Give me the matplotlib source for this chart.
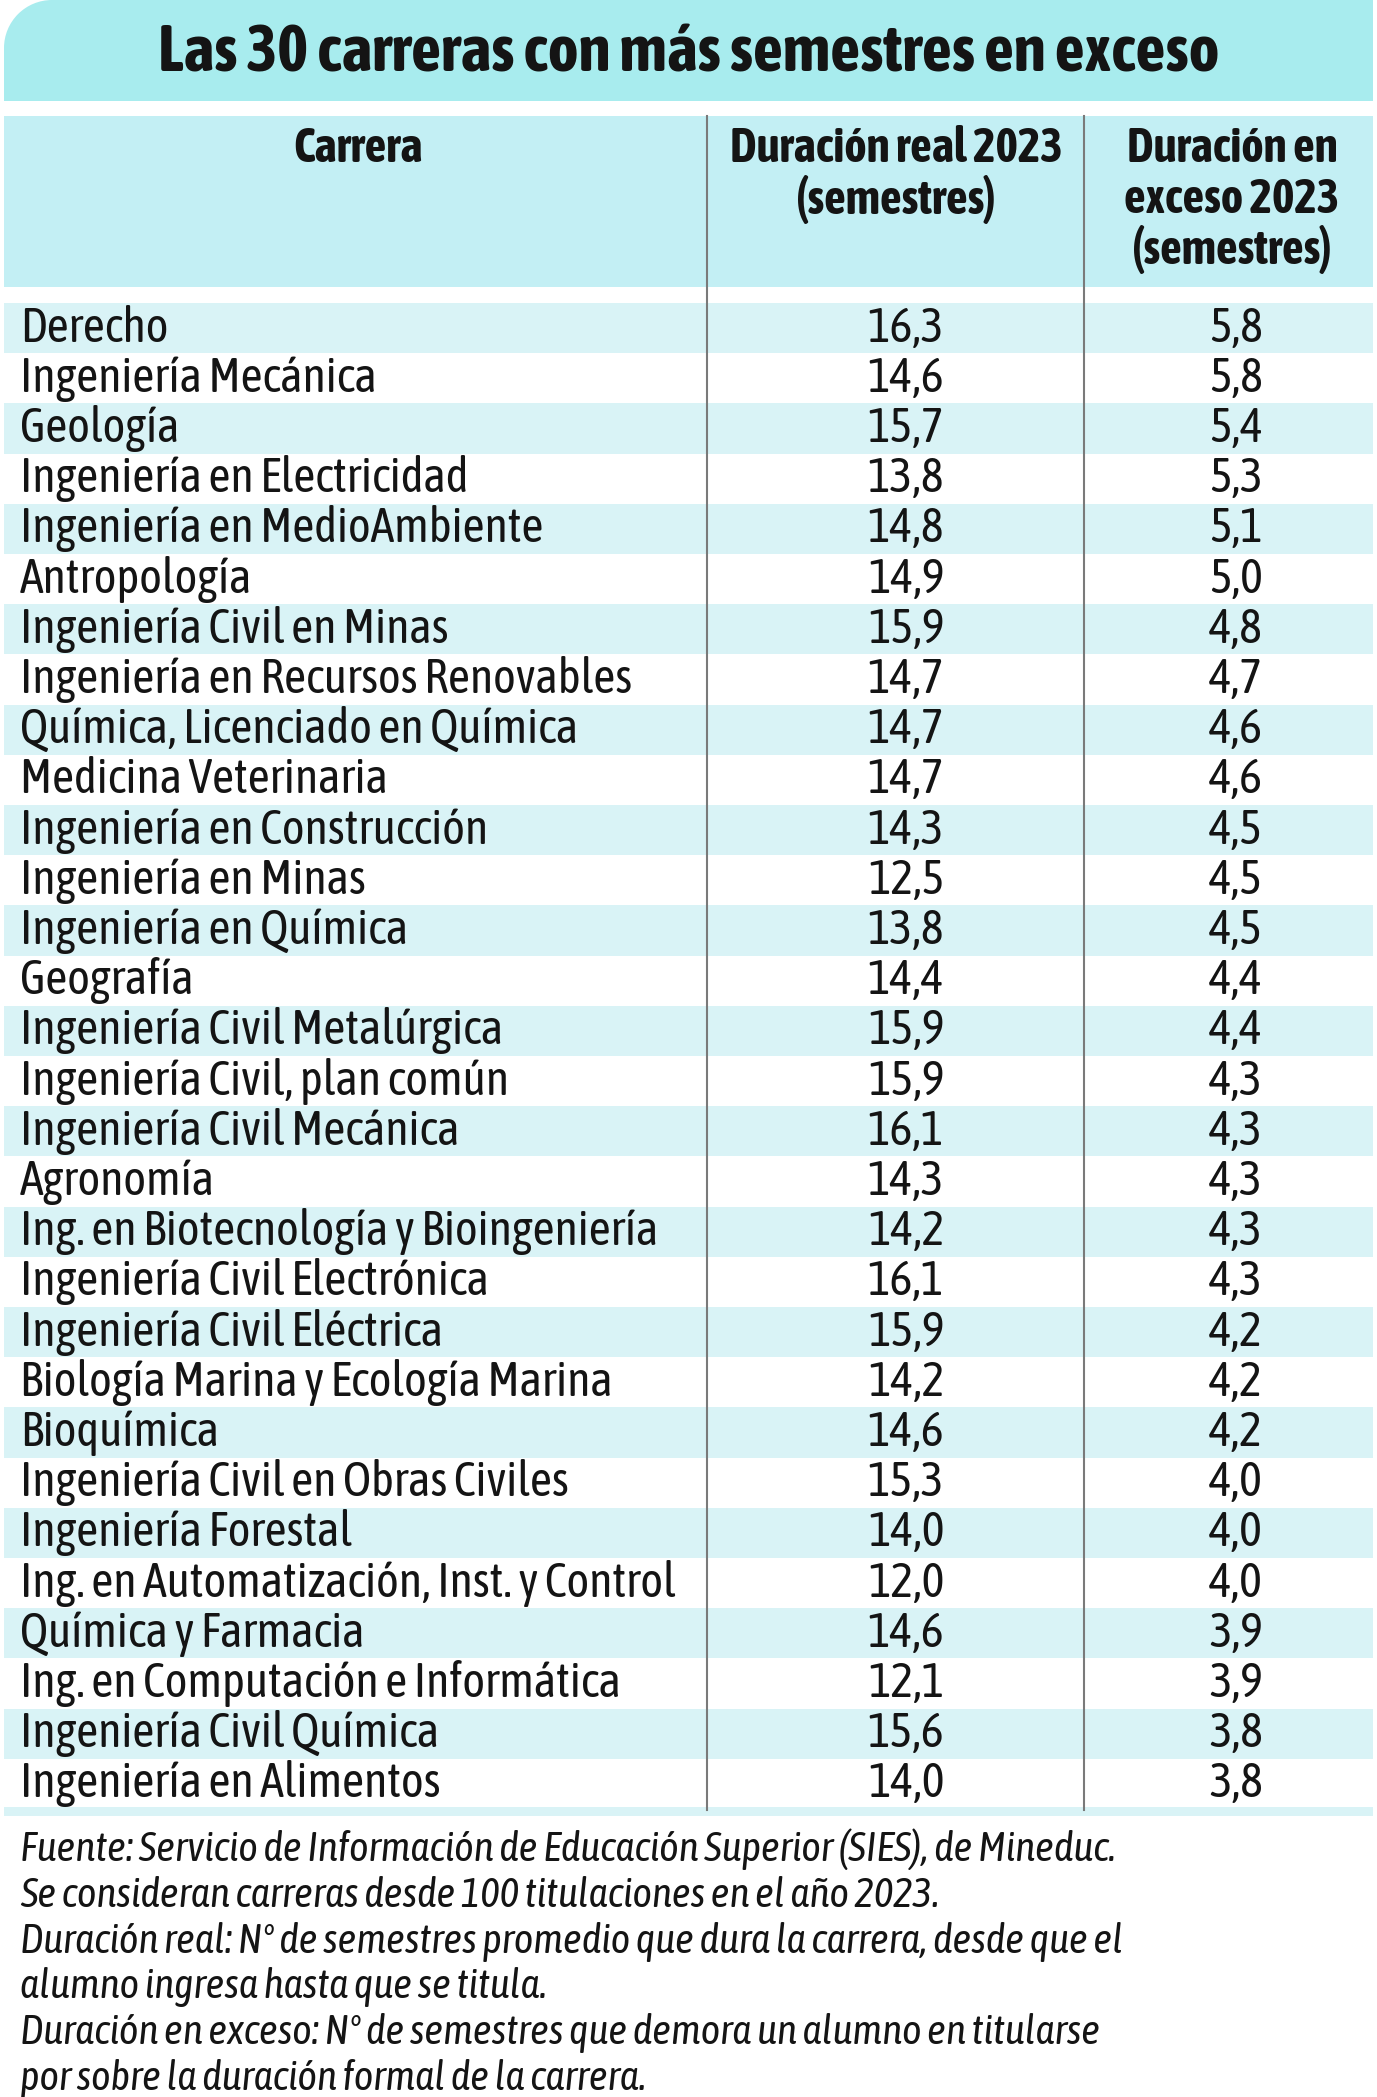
import matplotlib
matplotlib.use('Agg')
import matplotlib.pyplot as plt
from matplotlib import font_manager
from matplotlib.patches import Rectangle, Circle

carreras = ['Derecho', 'Ingeniería Mecánica', 'Geología', 'Ingeniería en Electricidad',
            'Ingeniería en MedioAmbiente', 'Antropología', 'Ingeniería Civil en Minas',
            'Ingeniería en Recursos Renovables', 'Química, Licenciado en Química',
            'Medicina Veterinaria', 'Ingeniería en Construcción', 'Ingeniería en Minas',
            'Ingeniería en Química', 'Geografía', 'Ingeniería Civil Metalúrgica',
            'Ingeniería Civil, plan común', 'Ingeniería Civil Mecánica', 'Agronomía',
            'Ing. en Biotecnología y Bioingeniería', 'Ingeniería Civil Electrónica',
            'Ingeniería Civil Eléctrica', 'Biología Marina y Ecología Marina', 'Bioquímica',
            'Ingeniería Civil en Obras Civiles', 'Ingeniería Forestal',
            'Ing. en Automatización, Inst. y Control', 'Química y Farmacia',
            'Ing. en Computación e Informática', 'Ingeniería Civil Química',
            'Ingeniería en Alimentos']
duracion_real = [16.3, 14.6, 15.7, 13.8, 14.8, 14.9, 15.9, 14.7, 14.7, 14.7,
                 14.3, 12.5, 13.8, 14.4, 15.9, 15.9, 16.1, 14.3, 14.2, 16.1,
                 15.9, 14.2, 14.6, 15.3, 14.0, 12.0, 14.6, 12.1, 15.6, 14.0]
duracion_exceso = [5.8, 5.8, 5.4, 5.3, 5.1, 5.0, 4.8, 4.7, 4.6, 4.6,
                   4.5, 4.5, 4.5, 4.4, 4.4, 4.3, 4.3, 4.3, 4.3, 4.3,
                   4.2, 4.2, 4.2, 4.0, 4.0, 4.0, 3.9, 3.9, 3.8, 3.8]

titulo = 'Las 30 carreras con más semestres en exceso'
encabezados = [['Carrera'],
               ['Duración real 2023', '(semestres)'],
               ['Duración en', 'exceso 2023', '(semestres)']]
notas = ['Fuente: Servicio de Información de Educación Superior (SIES), de Mineduc.',
         'Se consideran carreras desde 100 titulaciones en el año 2023.',
         'Duración real: N° de semestres promedio que dura la carrera, desde que el',
         'alumno ingresa hasta que se titula.',
         'Duración en exceso: N° de semestres que demora un alumno en titularse',
         'por sobre la duración formal de la carrera.']


def pick_font(names):
    for n in names:
        try:
            font_manager.findfont(font_manager.FontProperties(family=n), fallback_to_default=False)
            return n
        except Exception:
            pass
    return 'DejaVu Sans'


fuente = pick_font(['Asap Condensed', 'Fira Sans Condensed', 'Roboto Condensed', 'Open Sans'])

W, H = 1377, 2097
fig = plt.figure(figsize=(W / 100, H / 100), dpi=100)
ax = fig.add_axes([0, 0, 1, 1])
ax.set_xlim(0, W)
ax.set_ylim(H, 0)
ax.axis('off')

c_titulo = '#a8ecee'
c_header = '#c3eff4'
c_fila = '#d9f3f6'
c_texto = '#141414'

# banda del titulo con esquina redondeada arriba a la izquierda
r = 48
ax.add_patch(Rectangle((4 + r, 0), W - 8 - r, 101, color=c_titulo, lw=0))
ax.add_patch(Rectangle((4, r), r + 1, 101 - r, color=c_titulo, lw=0))
ax.add_patch(Circle((4 + r, r), r, color=c_titulo, lw=0))

# encabezado
ax.add_patch(Rectangle((4, 116), W - 8, 171, color=c_header, lw=0))

top = 303
alto = 50.2
for i in range(len(carreras)):
    if i % 2 == 0:
        ax.add_patch(Rectangle((4, top + i * alto), W - 8, alto, color=c_fila, lw=0))
ax.add_patch(Rectangle((4, 1807), W - 8, 9, color=c_fila, lw=0))

for x in [707, 1084]:
    ax.plot([x, x], [116, 1810], color='#7a7a7a', lw=1.5)

renderer = fig.canvas.get_renderer()


def ajustar(t, ancho):
    bb = t.get_window_extent(renderer)
    t.set_fontsize(t.get_fontsize() * ancho / bb.width)


t = ax.text(W / 2, 54, titulo, ha='center', va='center', fontsize=30, fontweight='bold',
            family=fuente, color=c_texto)
ajustar(t, 1062)

th = ax.text(0, 0, encabezados[1][0], fontsize=20, fontweight='bold', family=fuente)
ajustar(th, 332)
fs_h = th.get_fontsize()
th.remove()
for x, lineas in [(358, encabezados[0]), (896, encabezados[1]), (1232, encabezados[2])]:
    for k, s in enumerate(lineas):
        ax.text(x, 149 + k * 50.5, s, ha='center', va='center', fontsize=fs_h,
                fontweight='bold', family=fuente, color=c_texto)

tr = ax.text(20, 0, max(carreras, key=len), fontsize=20, family=fuente)
ajustar(tr, 656)
fs_r = tr.get_fontsize()
tr.remove()

for i, nombre in enumerate(carreras):
    y = top + (i + 0.5) * alto
    ax.text(20, y, nombre, ha='left', va='center', fontsize=fs_r, family=fuente, color=c_texto)
    ax.text(906, y, f'{duracion_real[i]:.1f}'.replace('.', ','), ha='center', va='center',
            fontsize=fs_r, family=fuente, color=c_texto)
    ax.text(1236, y, f'{duracion_exceso[i]:.1f}'.replace('.', ','), ha='center', va='center',
            fontsize=fs_r, family=fuente, color=c_texto)

tn = ax.text(20, 0, notas[0], fontsize=20, style='italic', family=fuente)
ajustar(tn, 1095)
fs_n = tn.get_fontsize()
tn.remove()
for k, linea in enumerate(notas):
    ax.text(20, 1861 + k * 45.8, linea, ha='left', va='baseline', fontsize=fs_n,
            style='italic', family=fuente, color=c_texto)

fig.savefig('out.png', dpi=100)
